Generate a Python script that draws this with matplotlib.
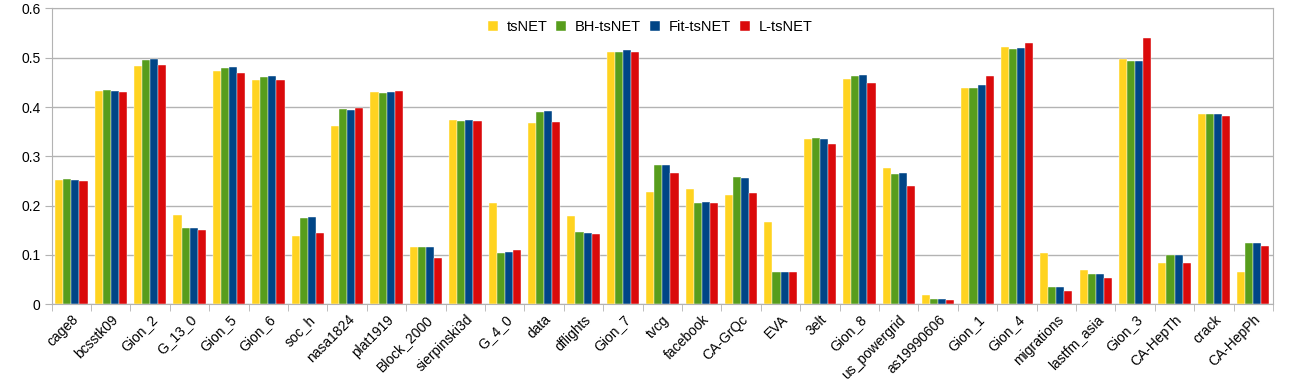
import matplotlib.pyplot as plt
import numpy as np

plt.rcParams['font.family'] = ['Liberation Sans', 'DejaVu Sans']

# graph datasets
graphs = ['cage8', 'bcsstk09', 'Gion_2', 'G_13_0', 'Gion_5', 'Gion_6', 'soc_h', 'nasa1824',
          'plat1919', 'Block_2000', 'sierpinski3d', 'G_4_0', 'data', 'dflights', 'Gion_7', 'tvcg',
          'facebook', 'CA-GrQc', 'EVA', '3elt', 'Gion_8', 'us_powergrid', 'as19990606', 'Gion_1',
          'Gion_4', 'migrations', 'lastfm_asia', 'Gion_3', 'CA-HepTh', 'crack', 'CA-HepPh']

tsnet = [0.252, 0.433, 0.484, 0.180, 0.473, 0.454, 0.139, 0.361,
         0.430, 0.115, 0.373, 0.205, 0.368, 0.178, 0.511, 0.227,
         0.233, 0.222, 0.167, 0.336, 0.456, 0.276, 0.018, 0.438,
         0.521, 0.103, 0.070, 0.497, 0.084, 0.386, 0.066]
bh_tsnet = [0.253, 0.434, 0.495, 0.154, 0.480, 0.460, 0.174, 0.395,
            0.428, 0.116, 0.371, 0.103, 0.389, 0.146, 0.512, 0.282,
            0.205, 0.258, 0.066, 0.337, 0.462, 0.264, 0.010, 0.438,
            0.518, 0.034, 0.061, 0.493, 0.099, 0.386, 0.125]
fit_tsnet = [0.251, 0.433, 0.497, 0.155, 0.482, 0.462, 0.176, 0.394,
             0.430, 0.115, 0.373, 0.105, 0.391, 0.144, 0.516, 0.282,
             0.207, 0.257, 0.065, 0.336, 0.464, 0.266, 0.010, 0.444,
             0.520, 0.034, 0.062, 0.493, 0.099, 0.386, 0.125]
l_tsnet = [0.250, 0.430, 0.486, 0.150, 0.470, 0.455, 0.145, 0.399,
           0.433, 0.094, 0.372, 0.110, 0.369, 0.143, 0.511, 0.266,
           0.205, 0.226, 0.066, 0.325, 0.449, 0.239, 0.008, 0.462,
           0.530, 0.026, 0.053, 0.541, 0.083, 0.382, 0.117]

series = [('tsNET', tsnet, '#FFD320'),
          ('BH-tsNET', bh_tsnet, '#579D1C'),
          ('Fit-tsNET', fit_tsnet, '#004586'),
          ('L-tsNET', l_tsnet, '#DA0A0B')]

fig = plt.figure(figsize=(12.99, 3.85), dpi=100)
ax = fig.add_axes([0.0398, 0.21, 0.9402, 0.768])

x = np.arange(len(graphs))
w = 0.205
for i, (name, vals, col) in enumerate(series):
    ax.bar(x + (i - 1.5) * w, vals, w, color=col, label=name, zorder=2,
           edgecolor='white', linewidth=0.3)

ax.set_xlim(-0.5, len(graphs) - 0.5)
ax.set_ylim(0, 0.6)
ax.set_yticks(np.arange(0, 0.61, 0.1))
ax.set_yticklabels(['0', '0.1', '0.2', '0.3', '0.4', '0.5', '0.6'], fontsize=10)
ax.grid(axis='y', color='#b3b3b3', lw=1, zorder=0)

ax.set_xticks(x)
ax.set_xticklabels(graphs, rotation=45, ha='right', rotation_mode='anchor', fontsize=10)
ax.tick_params(axis='x', length=0, pad=6)
ax.set_xticks(np.arange(-0.5, len(graphs), 1), minor=True)
ax.tick_params(axis='x', which='minor', length=5, color='#b3b3b3')
ax.tick_params(axis='y', length=5, color='#b3b3b3', pad=3)

for s in ax.spines.values():
    s.set_color('#b3b3b3')

ax.legend(loc='upper center', ncol=4, frameon=False, fontsize=10.5,
          handlelength=0.7, handleheight=0.7, handletextpad=0.6, columnspacing=0.6,
          bbox_to_anchor=(0.49, 1.005))

fig.savefig('out.png')
